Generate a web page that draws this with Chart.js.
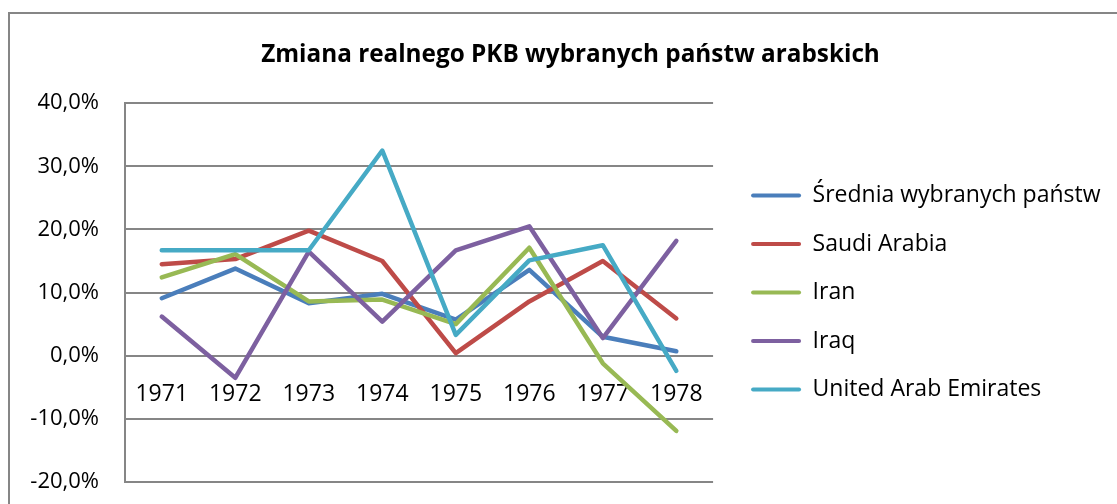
<!DOCTYPE html>
<html>
<head>
<meta charset="utf-8">
<script src="https://cdn.jsdelivr.net/npm/chart.js@4"></script>
<style>
    body { margin: 0; background: #fff; }
    #frame {
        position: absolute; left: 8px; top: 12px; width: 1200px; height: 600px;
        border-left: 2px solid #868686; border-top: 2px solid #868686;
    }
    #wrap { position: absolute; left: 0; top: 0; width: 1117px; height: 504px; }
</style>
</head>
<body>
<div id="frame"></div>
<div id="wrap"><canvas id="gdpChart" width="1117" height="504"></canvas></div>
<script>
// Data (percent)
const years = ['1971', '1972', '1973', '1974', '1975', '1976', '1977', '1978'];
const seriesNames = ['Średnia wybranych państw', 'Saudi Arabia', 'Iran', 'Iraq', 'United Arab Emirates'];
const srednia = [9.1, 13.8, 8.3, 9.8, 5.7, 13.6, 3.0, 0.7];
const saudiArabia = [14.5, 15.3, 19.8, 15.0, 0.4, 8.6, 15.0, 5.9];
const iran = [12.4, 16.1, 8.6, 8.9, 5.0, 17.1, -1.2, -11.9];
const iraq = [6.2, -3.5, 16.5, 5.4, 16.7, 20.5, 2.8, 18.2];
const uae = [16.7, 16.7, 16.7, 32.5, 3.3, 15.1, 17.5, -2.4];
const colors = ['#4A7EBB', '#BE4B48', '#98B954', '#7D60A0', '#46AAC5'];

const FONT = "'Open Sans', sans-serif";
const gridColor = '#868686';

const allSeries = [srednia, saudiArabia, iran, iraq, uae];
const datasets = allSeries.map((values, i) => ({
    label: seriesNames[i],
    data: values,
    borderColor: colors[i],
    backgroundColor: colors[i],
    borderWidth: 4.5,
    borderCapStyle: 'round',
    borderJoinStyle: 'round',
    pointRadius: 0,
    tension: 0,
    order: allSeries.length - i   // later series drawn on top, like Excel
}));

// empty spacer axes on the right (around the legend)
const spacer = (w, weight) => ({
    position: 'right',
    weight: weight,
    grid: { display: false },
    border: { display: false },
    ticks: { display: false },
    afterFit: s => { s.width = w; }
});

const ctx = document.getElementById('gdpChart').getContext('2d');
new Chart(ctx, {
    type: 'line',
    data: { labels: years, datasets: datasets },
    options: {
        responsive: false,
        animation: false,
        layout: { padding: { left: 24, top: 0, bottom: 22, right: 0 } },
        scales: {
            x: {
                position: { y: 0 },
                offset: true,
                grid: { display: false },
                border: { display: false },
                ticks: { color: '#000', font: { family: FONT, size: 23 }, padding: 17, maxRotation: 0 }
            },
            y: {
                min: -20,
                max: 40,
                afterFit: s => { s.width = 101; },
                // invisible tick marks keep the labels away from the axis
                grid: { color: gridColor, lineWidth: 2, drawTicks: true, tickLength: 26, tickColor: 'rgba(0,0,0,0)' },
                border: { display: true, color: gridColor, width: 2 },
                ticks: {
                    stepSize: 10,
                    padding: 0,
                    color: '#000',
                    font: { family: FONT, size: 22 },
                    callback: v => v.toFixed(1).replace('.', ',') + '%'
                }
            },
            gapInner: spacer(12.5, 0),
            gapOuter: spacer(6.5, 2000)
        },
        plugins: {
            title: {
                display: true,
                text: 'Zmiana realnego PKB wybranych państw arabskich',
                color: '#000',
                font: { family: FONT, size: 24.3, weight: 'bold' },
                padding: { top: 40, bottom: 34 }
            },
            legend: {
                position: 'right',
                fullSize: false,
                maxWidth: 420,
                labels: {
                    color: '#000',
                    font: { family: FONT, size: 23 },
                    boxWidth: 50,
                    boxHeight: 4,
                    padding: 25.5,
                    sort: (a, b) => a.datasetIndex - b.datasetIndex,
                    generateLabels: chart =>
                        Chart.defaults.plugins.legend.labels.generateLabels(chart).map(item => ({
                            ...item, lineWidth: 0, fillStyle: item.strokeStyle, borderRadius: 2
                        }))
                }
            },
            tooltip: { enabled: false }
        }
    }
});
</script>
</body>
</html>
